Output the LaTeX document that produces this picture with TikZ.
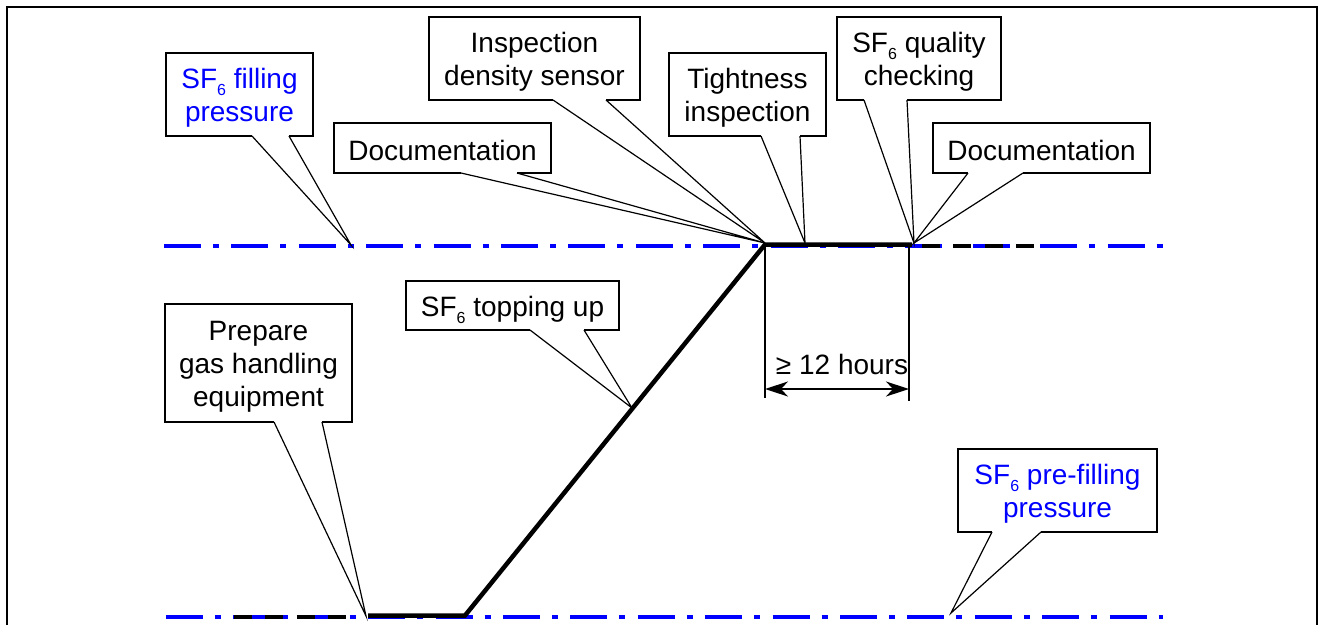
\documentclass[tikz,border=0pt]{standalone}
\usepackage{fontspec}
\setmainfont{Liberation Sans}
\usetikzlibrary{arrows.meta}

% SF6 with a lowered small digit
\newcommand\sfsix{SF\raisebox{-7pt}{\fontsize{16}{16}\selectfont 6}}

% speech-bubble outline: box edge with an opening, and a wedge to the tip
% #1 box node, #2 tip coordinate, #3/#4 wedge base offsets from the left edge
\newcommand\callout[4]{%
  \draw[boxline] ([xshift=#4]#1.south west) -- (#1.south east) -- (#1.north east)
        -- (#1.north west) -- (#1.south west) -- ([xshift=#3]#1.south west);
  \draw[wedge] ([xshift=#3]#1.south west) -- (#2) -- ([xshift=#4]#1.south west);}

\begin{document}
\begin{tikzpicture}[x=1pt,y=-1pt,
  frame/.style={line width=2.7pt},
  level/.style={blue, line width=4pt, dash pattern=on 37pt off 12pt on 6pt off 12.4pt},
  ghost/.style={black, line width=4pt, dash pattern=on 18pt off 13.4pt},
  trace/.style={line width=4.5pt, line join=miter},
  boxline/.style={line width=1.8pt},
  wedge/.style={line width=1.2pt},
  dim/.style={line width=1.5pt},
  bubble/.style={inner sep=0pt, outer sep=0pt},
  lbl/.style={inner sep=0pt, align=center, font=\fontsize{28}{33}\selectfont},
  bluelbl/.style={lbl, text=blue}]

\useasboundingbox (0,0) rectangle (1323,625);

% outer frame (open at the bottom)
\draw[frame] (7,625) -- (7,7) -- (1317,7) -- (1317,625);

% pressure levels
\coordinate (la) at (164,245.5);  \coordinate (lb) at (1163,245.5);
\coordinate (lc) at (166,616.5);  \coordinate (ld) at (1163,616.5);
\draw[level] (la) -- (lb);
\draw[level] (lc) -- (ld);
\coordinate (ga) at (922,245.5);  \coordinate (gb) at (1034,245.5);
\coordinate (gc) at (234,616.5);  \coordinate (gd) at (346,616.5);
\draw[ghost] (ga) -- (gb);
\draw[ghost] (gc) -- (gd);

% pressure course
\coordinate (p0) at (368,615.5);
\coordinate (p1) at (465,615.5);
\coordinate (p2) at (765,244.5);
\coordinate (p3) at (912,244.5);
\draw[trace] (p0) -- (p1) -- (p2) -- (p3);

% holding time
\coordinate (q0) at (765,245);
\coordinate (q1) at (909,245);
\coordinate (d0) at (765,398);
\coordinate (d1) at (909,401);
\draw[dim] (q0) -- (d0);
\draw[dim] (q1) -- (d1);
\coordinate (a0) at (765,389);
\coordinate (a1) at (909,389);
\draw[dim, {Stealth[length=23pt,width=15pt,inset=7pt]}-{Stealth[length=23pt,width=15pt,inset=7pt]}] (a0) -- (a1);
\node[lbl] (hold) at (842,364) {≥ 12 hours};

% tips of the callouts
\coordinate (t1) at (351,245);
\coordinate (t2) at (765,243);
\coordinate (t3) at (805,243);
\coordinate (t4) at (914,243);
\coordinate (t5) at (366,616);
\coordinate (t6) at (632,408);
\coordinate (t7) at (951,613);

% callout boxes
\node[bubble, minimum width=147pt, minimum height=83pt]  (fillp) at (239.5,94.5) {};
\node[bubble, minimum width=217pt, minimum height=50pt]  (doca)  at (442.5,148) {};
\node[bubble, minimum width=211pt, minimum height=83pt]  (insp)  at (534.5,58.5) {};
\node[bubble, minimum width=157pt, minimum height=83pt]  (tight) at (747.5,94.5) {};
\node[bubble, minimum width=164pt, minimum height=83pt]  (qual)  at (919,58.5) {};
\node[bubble, minimum width=217pt, minimum height=50pt]  (docb)  at (1041.5,148) {};
\node[bubble, minimum width=187pt, minimum height=118pt] (prep)  at (258.5,363) {};
\node[bubble, minimum width=213pt, minimum height=49pt]  (topup) at (512.5,305.5) {};
\node[bubble, minimum width=199pt, minimum height=83pt]  (prefill) at (1057.5,490.5) {};

\callout{fillp}{t1}{86pt}{123pt}
\callout{doca}{t2}{127pt}{183pt}
\callout{insp}{t2}{124pt}{177pt}
\callout{tight}{t3}{92pt}{131pt}
\callout{qual}{t4}{27pt}{70pt}
\callout{docb}{t4}{35pt}{90pt}
\callout{prep}{t5}{109pt}{157pt}
\callout{topup}{t6}{124pt}{178pt}
\callout{prefill}{t7}{34pt}{83pt}

% callout texts
\node[bluelbl] (fillp-t) at ([yshift=-3pt]fillp.center) {\sfsix{} filling\\pressure};
\node[lbl] (doca-t)  at ([yshift=-2pt]doca.center) {Documentation};
\node[lbl] (insp-t)  at ([yshift=-3pt]insp.center) {Inspection\\density sensor};
\node[lbl] (tight-t) at ([yshift=-3pt]tight.center) {Tightness\\inspection};
\node[lbl] (qual-t)  at ([yshift=-3pt]qual.center) {\sfsix{} quality\\checking};
\node[lbl] (docb-t)  at ([yshift=-2pt]docb.center) {Documentation};
\node[lbl] (prep-t)  at ([yshift=-4pt]prep.center) {Prepare\\gas handling\\equipment};
\node[lbl] (topup-t) at ([yshift=-4pt]topup.center) {\sfsix{} topping up};
\node[bluelbl] (prefill-t) at ([yshift=-3pt]prefill.center) {\sfsix{} pre-filling\\pressure};
\end{tikzpicture}
\end{document}
